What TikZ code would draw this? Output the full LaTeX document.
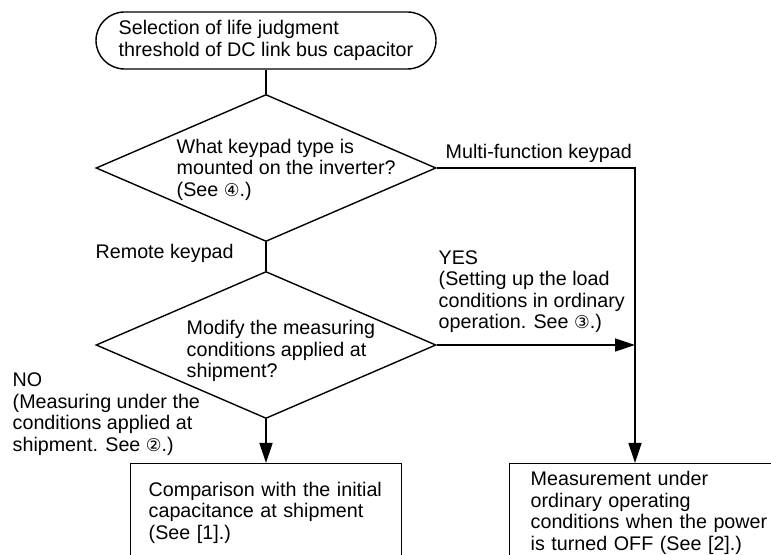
\documentclass[tikz,border=0pt]{standalone}
\usepackage{fontspec}
\setmainfont{Liberation Sans}
\newfontfamily\symfont{DejaVu Sans}
\usetikzlibrary{shapes.geometric,arrows.meta}
\newcommand{\cnum}[1]{{\symfont\fontsize{8.8}{8.8}\selectfont #1}}
\begin{document}
\begin{tikzpicture}[x=0.5pt,y=-0.5pt,>={Triangle[length=10pt,width=6.5pt]},line width=0.7pt,
  every node/.style={font=\fontsize{9.85}{10.75}\selectfont},
  txt/.style={anchor=west,align=left,inner sep=0pt},
  terminal/.style={draw,rounded corners=14.25pt,align=left,minimum width=170pt,minimum height=28.5pt,inner sep=0pt},
  decision/.style={draw,diamond,minimum width=170pt,minimum height=73.5pt,inner sep=0pt},
  process/.style={draw,anchor=north west,align=left,minimum height=49pt,inner ysep=0pt}]
\useasboundingbox (0,0) rectangle (771,555);
% 开始
\node[terminal] (start) at (266,40.5) {Selection of life judgment\\threshold of DC link bus capacitor};
% 判断
\node[decision] (q1) at (266,168) {};
\node[txt] (q1text) at (176,169.5) {What keypad type is\\mounted on the inverter?\\(See \cnum{④}.)};
\node[decision] (q2) at (266,345) {};
\node[txt] (q2text) at (186,351) {Modify the measuring\\conditions applied at\\shipment?};
% 结果
\node[process,text width=117.5pt,inner xsep=9pt] (lbox) at (130,463) {Comparison with the initial\\capacitance at shipment\\(See [1].)};
\node[process,text width=119.5pt,inner xsep=10.5pt] (rbox) at (509,463) {Measurement under\\ordinary operating\\conditions when the power\\is turned OFF (See [2].)};
% 连线
\coordinate (turn) at (635,168);
\draw (start.south) -- (q1.north);
\draw (q1.south) -- (q2.north);
\draw[->] (q1.east) -- (turn) -- (turn |- rbox.north);
\draw[->] (q2.east) -- (turn |- q2.east);
\draw[->] (q2.south) -- (q2.south |- lbox.north);
% 标签
\node[txt] (multi) at (445,153) {Multi-function keypad};
\node[txt] (remote) at (95,253) {Remote keypad};
\node[txt] (yes) at (438,291.5) {YES\\(Setting up the load\\conditions in ordinary\\operation. See \cnum{③}.)};
\node[txt] (no) at (12,414) {NO\\(Measuring under the\\conditions applied at\\shipment. See \cnum{②}.)};
\end{tikzpicture}
\end{document}
